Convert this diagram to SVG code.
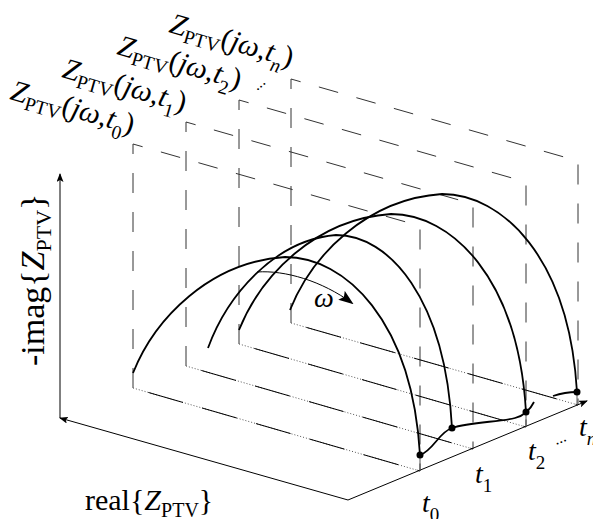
<svg xmlns="http://www.w3.org/2000/svg" width="593" height="519" viewBox="0 0 593 519">
<defs>
<marker id="ah" markerWidth="9" markerHeight="7" refX="8" refY="3.5" orient="auto" markerUnits="userSpaceOnUse"><path d="M0,0 L9,3.5 L0,7 L2,3.5 z" fill="#000"/></marker>
<marker id="wh" markerWidth="15" markerHeight="11" refX="13" refY="5.5" orient="auto" markerUnits="userSpaceOnUse"><path d="M0,0 L15,5.5 L0,11 L3,5.5 z" fill="#000"/></marker>
</defs>
<style>
.dash{fill:none;stroke:#333;stroke-width:1;stroke-dasharray:20 19}
.base{fill:none;stroke:#000;stroke-width:1;stroke-dasharray:36 20;stroke-dashoffset:40}
.dot{fill:none;stroke:#555;stroke-width:1;stroke-dasharray:1 2}
.arc{fill:none;stroke:#000;stroke-width:1.8}
.ax{fill:none;stroke:#000;stroke-width:1}
.tick{fill:none;stroke:#555;stroke-width:1}
text{font-family:"Liberation Serif","Times New Roman",serif;fill:#000}
.it{font-style:italic}
</style>

<g id="plane-t0">
<path class="dash" d="M133,388 V144 L420,226 V471"/>
<path class="dot" d="M133,388 L420,471"/>
<path class="base" d="M133,388 L420,471"/>
</g>
<g id="plane-t1">
<path class="dash" d="M186,366 V122 L473,204 V449"/>
<path class="dot" d="M186,366 L473,449"/>
<path class="base" d="M186,366 L473,449"/>
</g>
<g id="plane-t2">
<path class="dash" d="M239,344 V100 L526,182 V427"/>
<path class="dot" d="M239,344 L526,427"/>
<path class="base" d="M239,344 L526,427"/>
</g>
<g id="plane-tn">
<path class="dash" d="M291,323 V79 L578,161 V405"/>
<path class="dot" d="M291,323 L578,405"/>
<path class="base" d="M291,323 L578,405"/>
</g>

<g id="axes">
<path class="ax" d="M348,500 L60,418" marker-end="url(#ah)"/>
<path class="ax" d="M60,418 V174" marker-end="url(#ah)"/>
<path class="ax" d="M348,500 L587,401" marker-end="url(#ah)"/>
</g>

<g id="arcs">
<path id="arc-t0" class="arc" d="M133,373 C155,318 210,262 285,257 C345,257 412,320 420,455"/>
<path id="arc-t1" class="arc" d="M208,348 C227,296 274,240 336,235 C389,235 445,298 452,428"/>
<path id="arc-t2" class="arc" d="M133,373 C155,318 210,262 285,257 C345,257 412,320 420,455" transform="translate(106,-43)"/>
<path id="arc-tn" class="arc" d="M133,373 C155,318 210,262 285,257 C345,257 412,320 420,455" transform="translate(157,-63)"/>
</g>

<g id="connectors">
<path class="tick" d="M420,455 V471 M526,412 V427 M577,392 V405"/>
<path class="arc" d="M420,455 C433,451 439,432 452,428 C470,422 500,422 515,418 C523,416 530,410 534,402"/>
<path class="arc" d="M553,396 C562,393 570,392 577,392"/>
<path fill="none" stroke="#000" stroke-width="1" d="M257,272 C285,270 322,281 352,303" marker-end="url(#wh)"/>
</g>

<g id="dots" fill="#000">
<circle cx="420" cy="455" r="3.5"/>
<circle cx="452" cy="428" r="3.5"/>
<circle cx="526" cy="412" r="3.5"/>
<circle cx="577" cy="392" r="3.5"/>
</g>

<g id="labels">
<text transform="translate(9,99) rotate(16)" font-size="29.5"><tspan class="it">Z</tspan><tspan font-size="19.5" dy="6">PTV</tspan><tspan dy="-6">(</tspan><tspan class="it">jω</tspan>,<tspan class="it">t</tspan><tspan font-size="19.5" dy="9">0</tspan><tspan dy="-9">)</tspan></text>
<text transform="translate(61,77) rotate(16)" font-size="29.5"><tspan class="it">Z</tspan><tspan font-size="19.5" dy="6">PTV</tspan><tspan dy="-6">(</tspan><tspan class="it">jω</tspan>,<tspan class="it">t</tspan><tspan font-size="19.5" dy="9">1</tspan><tspan dy="-9">)</tspan></text>
<text transform="translate(116,54) rotate(16)" font-size="29.5"><tspan class="it">Z</tspan><tspan font-size="19.5" dy="6">PTV</tspan><tspan dy="-6">(</tspan><tspan class="it">jω</tspan>,<tspan class="it">t</tspan><tspan font-size="19.5" dy="9">2</tspan><tspan dy="-9">)</tspan></text>
<text transform="translate(257,91) rotate(-40)" font-size="16">...</text>
<text transform="translate(168,32) rotate(16)" font-size="29.5"><tspan class="it">Z</tspan><tspan font-size="19.5" dy="6">PTV</tspan><tspan dy="-6">(</tspan><tspan class="it">jω</tspan>,<tspan class="it">t</tspan><tspan class="it" font-size="19.5" dy="9">n</tspan><tspan dy="-9">)</tspan></text>

<text transform="translate(44,366) rotate(-90)" font-size="34">-imag{<tspan class="it">Z</tspan><tspan font-size="22" dy="7">PTV</tspan><tspan dy="-7">}</tspan></text>
<text x="85" y="510" font-size="30">real{<tspan class="it">Z</tspan><tspan font-size="20" dy="7">PTV</tspan><tspan dy="-7">}</tspan></text>

<text x="314" y="307" font-size="28" class="it">ω</text>

<text x="422" y="512" font-size="28"><tspan class="it">t</tspan><tspan font-size="19" dy="9">0</tspan></text>
<text x="475" y="483" font-size="28"><tspan class="it">t</tspan><tspan font-size="19" dy="9">1</tspan></text>
<text x="528" y="460" font-size="28"><tspan class="it">t</tspan><tspan font-size="19" dy="9">2</tspan></text>
<text x="579" y="436" font-size="28"><tspan class="it">t</tspan><tspan class="it" font-size="19" dy="9">n</tspan></text>
<text transform="translate(556,445) rotate(-22)" font-size="16">...</text>
</g>
</svg>
